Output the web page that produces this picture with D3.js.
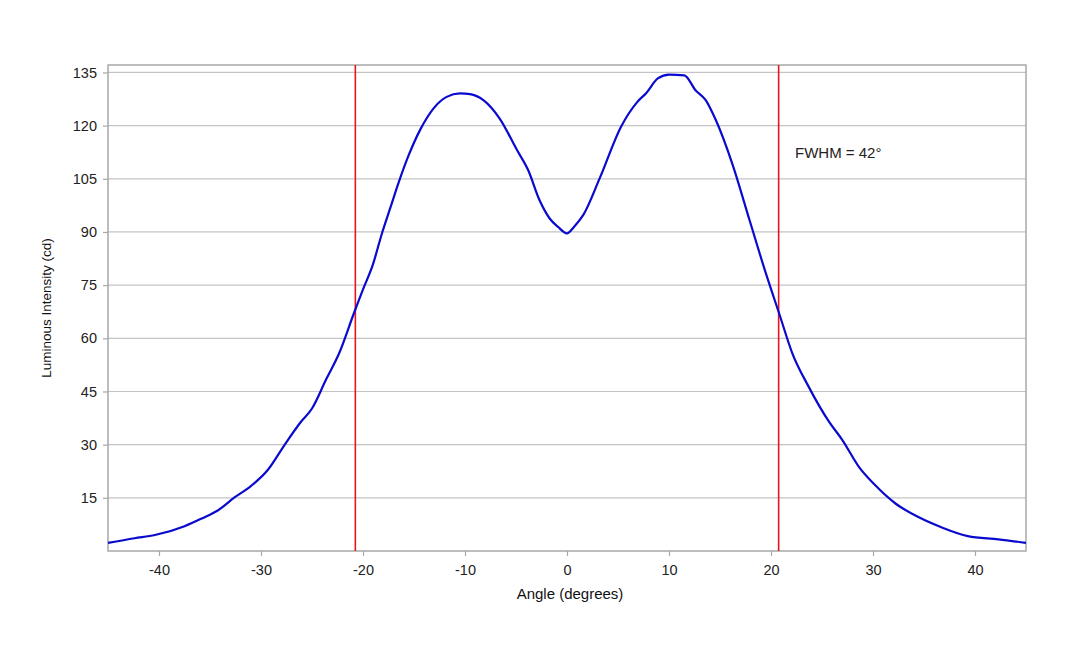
<!DOCTYPE html>
<html>
<head>
<meta charset="utf-8">
<script src="https://cdn.jsdelivr.net/npm/d3@7"></script>
<style>
  html, body { margin: 0; padding: 0; background: #fff; }
  svg { display: block; font-family: "Liberation Sans", Arial, sans-serif; }
</style>
</head>
<body>
<script>
const angles = [-45, -42.4, -40.4, -37.5, -35.8, -34.2, -32.6, -31, -29.3, -27.7, -26.1, -25, -23.6, -22.35, -20.9, -19.9, -19.1, -18.1, -17.3, -16.5, -15.5, -14.4, -13.1, -11.8, -10.5, -9.5, -8.2, -6.6, -4.9, -3.8, -2.7, -1.7, -0.9, 0, 0.7, 1.6, 3.2, 5.3, 6.9, 7.8, 8.9, 10, 11.5, 12.6, 13.6, 14.6, 16.2, 17.9, 19.5, 20.8, 22.1, 23.7, 25.7, 27, 28.6, 30.2, 32.2, 34.5, 36.7, 39.3, 42.3, 45];
const intensity = [2.3, 3.6, 4.5, 7.0, 9.2, 11.5, 15.1, 18.3, 23.0, 29.9, 36.4, 40.2, 48.5, 55.7, 67.0, 74.5, 80.2, 90, 97, 104, 111.8, 118.8, 124.8, 128.1, 129.1, 128.9, 127.2, 122.0, 113.1, 107.4, 99, 93.8, 91.5, 89.6, 91.5, 94.8, 105.1, 119.7, 126.7, 129.3, 133.3, 134.4, 134.2, 130.0, 127.2, 121.5, 109.3, 93.3, 78.3, 67.0, 55.7, 46.3, 36.4, 31.3, 23.8, 18.6, 13.4, 9.5, 6.7, 4.2, 3.3, 2.3];
const xTicks = [-40, -30, -20, -10, 0, 10, 20, 30, 40];
const yTicks = [15, 30, 45, 60, 75, 90, 105, 120, 135];
const fwhmLines = [-20.75, 20.75];
const fwhmLabel = "FWHM = 42°";
const xTitle = "Angle (degrees)";
const yTitle = "Luminous Intensity (cd)";

const W = 1080, H = 648;
const m = { left: 108, right: 1026, top: 65, bottom: 551 };

const svg = d3.select("body").append("svg").attr("width", W).attr("height", H);

const x = d3.scaleLinear().domain([-45, 45]).range([m.left, m.right]);
const y = d3.scaleLinear().domain([0, 137.1]).range([m.bottom, m.top]);

// grid lines
svg.append("g").selectAll("line").data(yTicks).join("line")
  .attr("x1", m.left).attr("x2", m.right)
  .attr("y1", d => y(d)).attr("y2", d => y(d))
  .attr("stroke", "#c4c4c4").attr("stroke-width", 1.2);

// plot frame
svg.append("rect")
  .attr("x", m.left).attr("y", m.top)
  .attr("width", m.right - m.left).attr("height", m.bottom - m.top)
  .attr("fill", "none").attr("stroke", "#a8a8a8").attr("stroke-width", 1.5);

const fmt = d => String(d);

// Y axis
const yAxis = svg.append("g").attr("transform", `translate(${m.left},0)`)
  .call(d3.axisLeft(y).tickValues(yTicks).tickFormat(fmt).tickSize(5).tickPadding(6).tickSizeOuter(0));
yAxis.select(".domain").remove();
yAxis.selectAll(".tick line").attr("stroke", "#a8a8a8").attr("stroke-width", 1.2);
yAxis.selectAll(".tick text").attr("fill", "#222").style("font-size", "14.5px")
  .style("font-family", "'Liberation Sans', Arial, sans-serif");

// X axis
const xAxis = svg.append("g").attr("transform", `translate(0,${m.bottom})`)
  .call(d3.axisBottom(x).tickValues(xTicks).tickFormat(fmt).tickSize(5).tickPadding(9).tickSizeOuter(0));
xAxis.select(".domain").remove();
xAxis.selectAll(".tick line").attr("stroke", "#a8a8a8").attr("stroke-width", 1.2);
xAxis.selectAll(".tick text").attr("fill", "#222").style("font-size", "14.5px")
  .style("font-family", "'Liberation Sans', Arial, sans-serif");

// FWHM lines
svg.append("g").selectAll("line").data(fwhmLines).join("line")
  .attr("x1", d => x(d)).attr("x2", d => x(d))
  .attr("y1", m.top).attr("y2", m.bottom)
  .attr("stroke", "#e8141c").attr("stroke-width", 1.6);

// curve
const data = angles.map((a, i) => ({ a, v: intensity[i] }));
const line = d3.line().x(d => x(d.a)).y(d => y(d.v)).curve(d3.curveMonotoneX);
svg.append("path").datum(data).attr("d", line)
  .attr("fill", "none").attr("stroke", "#0a0acf").attr("stroke-width", 2.2)
  .attr("stroke-linejoin", "round");

// FWHM label
svg.append("text").attr("x", 795).attr("y", 158)
  .attr("fill", "#222").style("font-size", "15px").text(fwhmLabel);

// axis titles
svg.append("text").attr("x", (m.left + m.right) / 2 + 3).attr("y", 599)
  .attr("text-anchor", "middle").attr("fill", "#111").style("font-size", "15px").text(xTitle);
svg.append("text")
  .attr("transform", `translate(51,${(m.top + m.bottom) / 2}) rotate(-90)`)
  .attr("text-anchor", "middle").attr("fill", "#111").style("font-size", "13.5px").text(yTitle);
</script>
</body>
</html>
